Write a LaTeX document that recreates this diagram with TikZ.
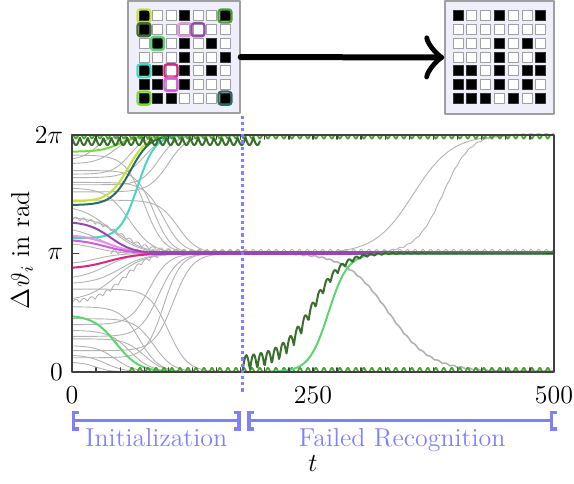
\documentclass[tikz,border=0pt]{standalone}
\usepackage{tikz}
\usetikzlibrary{arrows.meta}

\definecolor{markblue}{RGB}{128,128,255}
\definecolor{boxbg}{RGB}{239,239,251}
\definecolor{cellgray}{RGB}{160,160,160}
\definecolor{curvegray}{RGB}{178,178,178}
\definecolor{limegreen}{RGB}{200,226,60}
\definecolor{darkgreen}{RGB}{58,110,45}
\definecolor{midgreen}{RGB}{78,160,52}
\definecolor{lightgreen}{RGB}{92,212,115}
\definecolor{brightgreen}{RGB}{118,220,62}
\definecolor{turq}{RGB}{72,214,196}
\definecolor{darkteal}{RGB}{42,108,96}
\definecolor{phasepurple}{RGB}{152,72,172}
\definecolor{lightpink}{RGB}{228,150,228}
\definecolor{orchid}{RGB}{212,92,222}
\definecolor{rosered}{RGB}{212,40,130}

\tikzset{
  barend/.tip={Bracket[width=10pt,length=2.5pt,line width=1.6pt]},
  barout/.tip={Bracket[width=10pt,length=2.5pt,line width=1.6pt,reversed]}
}

\begin{document}
\begin{tikzpicture}[x=0.5pt, y=0.5pt, line cap=round, line join=round,
    font=\large,
    declare function={sg(\x,\m,\w)=1/(1+exp(min(9,max(-9,(\x-\m)/\w))));},
    panel/.style={draw=gray!75, fill=boxbg, line width=0.7pt, inner sep=0pt,
      minimum width=56pt, minimum height=56pt},
    pix0/.style={draw=cellgray, fill=white, line width=0.5pt, inner sep=0pt, minimum size=5pt},
    pix1/.style={draw=black!80, fill=black, line width=0.5pt, inner sep=0pt, minimum size=5pt},
    ring/.style={draw=#1, line width=1.1pt, rounded corners=1.5pt, inner sep=0pt, minimum size=6.6pt},
    bigarrow/.style={line width=3pt, -{Classical TikZ Rightarrow[length=10pt,width=22pt]}},
    graycurve/.style={curvegray, line width=0.45pt},
    colcurve/.style={#1, line width=1pt},
    frame/.style={black!75, line width=0.7pt},
    splitline/.style={markblue, line width=1.6pt, line cap=butt, dash pattern=on 1.6pt off 1.5pt},
    phasebar/.style={markblue, line width=1.1pt, line cap=butt},
    txt/.style={scale=1.08},
    ticklabel/.style={txt, inner sep=4pt}]

  \useasboundingbox (0,0) rectangle (574,483);

  % the two pattern panels
  \node[panel] (before) at (184,426) {};
  \node[panel, minimum width=54.5pt, minimum height=56.5pt] (after) at (499.5,425.5) {};

  \foreach \row [count=\j from 0] in {{1,0,0,1,0,0,1},{1,0,0,0,0,0,0},{0,1,0,1,0,1,0},
      {0,0,0,1,0,0,1},{1,1,0,1,0,1,0},{1,1,0,1,0,0,0},{1,1,1,0,0,0,1}}
    \foreach \v [count=\i from 0] in \row
      \node[pix\v] (in-\i-\j) at (144+13.5*\i, 467-13.7*\j) {};

  \foreach \i/\j/\clr in {0/0/limegreen, 6/0/midgreen, 0/1/darkgreen, 3/1/lightpink,
      4/1/phasepurple, 1/2/lightgreen, 0/4/turq, 2/4/rosered, 2/5/orchid,
      0/6/brightgreen, 6/6/darkteal}
    \node[ring=\clr] (ring-\i-\j) at (in-\i-\j) {};

  \foreach \row [count=\j from 0] in {{1,0,0,1,0,0,1},{0,0,0,0,0,0,0},{0,0,0,1,0,1,0},
      {0,0,0,1,0,0,1},{1,1,0,1,0,1,1},{1,1,0,1,0,1,0},{1,1,1,0,1,0,1}}
    \foreach \v [count=\i from 0] in \row
      \node[pix\v] (out-\i-\j) at (458+13.8*\i, 467-13.7*\j) {};

  \draw[bigarrow] (before) -- (after);

  % phase plot, t horizontally, y in units of pi
  \begin{scope}[shift={(72,111)}, x=0.482pt, y=59.25pt]

    % gray oscillators, initialization
    \foreach \ya/\yb/\tc/\tw in {1.80/2/25/8, 1.76/2/45/10, 1.67/2/60/9, 1.64/2/75/10,
        1.58/2/90/9, 1.52/2/100/10, 1.83/1/75/10, 1.70/1/85/9, 1.60/1/95/10,
        1.55/1/60/12, 1.45/1/110/10, 1.38/1/40/15, 1.30/1/50/14, 1.20/1/30/15,
        1.08/1/25/12, 0.92/1/25/12, 0.80/1/35/14, 0.75/1/50/14, 0.62/1/45/15,
        0.40/1/80/10, 0.30/1/90/10, 0.18/1/105/10, 0.12/1/95/9, 0.70/0/100/10,
        0.55/0/70/10, 0.45/0/85/10, 0.35/0/60/11, 0.28/0/75/10, 0.22/0/45/10,
        0.14/0/35/10, 0.08/0/25/8}
      \draw[graycurve, domain=0:180, samples=60]
        plot ({\x}, {\yb+(\ya-\yb)*sg(\x,\tc,\tw)/sg(0,\tc,\tw)});

    \draw[graycurve, domain=0:180, samples=240]
      plot ({\x}, {1+0.28*sg(\x,50,15)/sg(0,50,15)+0.03*abs(sin(22.5*\x))});
    \draw[graycurve, domain=0:180, samples=240]
      plot ({\x}, {1-0.42*sg(\x,55,14)/sg(0,55,14)+0.03*abs(sin(22.5*\x))});
    \draw[graycurve, domain=40:500, samples=700]
      plot ({\x}, {1+0.035*abs(sin(22.5*\x))^2});

    % gray oscillators, failed recognition
    \draw[graycurve, domain=150:500, samples=120] plot ({\x}, {2-sg(\x,354,20)});
    \draw[graycurve, domain=150:500, samples=300]
      plot ({\x}, {2-sg(\x,385,14)+0.012*abs(sin(22.5*\x))});
    \draw[graycurve, line width=0.8pt, domain=150:500, samples=300]
      plot ({\x}, {sg(\x,328,22)+0.012*abs(sin(22.5*\x))});

    % coloured oscillators
    \draw[colcurve=brightgreen, domain=0:180, samples=60]
      plot ({\x}, {2-0.14*sg(\x,50,10)/sg(0,50,10)});
    \draw[colcurve=limegreen, domain=0:180, samples=60]
      plot ({\x}, {2-0.56*sg(\x,58,10)/sg(0,58,10)});
    \draw[colcurve=darkteal, domain=0:180, samples=60]
      plot ({\x}, {2-0.59*sg(\x,61,10)/sg(0,61,10)});
    \draw[colcurve=turq, domain=0:180, samples=60]
      plot ({\x}, {2-0.87*sg(\x,68,9)/sg(0,68,9)});
    \draw[colcurve=lightpink, domain=0:180, samples=60]
      plot ({\x}, {1+0.15*sg(\x,38,14)/sg(0,38,14)});
    \draw[colcurve=orchid, domain=0:180, samples=60]
      plot ({\x}, {1+0.11*sg(\x,35,14)/sg(0,35,14)});
    \draw[colcurve=phasepurple, domain=0:180, samples=60]
      plot ({\x}, {1+0.26*sg(\x,40,12)/sg(0,40,12)});
    \draw[colcurve=rosered, domain=0:180, samples=60]
      plot ({\x}, {1-0.12*sg(\x,38,15)/sg(0,38,15)});
    \draw[colcurve=lightgreen, domain=0:180, samples=60]
      plot ({\x}, {0.47*sg(\x,46,12)/sg(0,46,12)});

    \draw[phasepurple, line width=2pt, line cap=butt] (80,1) -- (500,1);

    % green clusters at 0 and 2pi
    \draw[colcurve=midgreen, line width=0.9pt, domain=0:500, samples=900]
      plot ({\x}, {2-0.03*abs(sin(21.7*\x))^4});
    \draw[colcurve=darkgreen, domain=0:195, samples=260]
      plot ({\x}, {1.98-0.065*abs(sin(22*\x))});
    \draw[colcurve=midgreen, line width=0.9pt, domain=60:500, samples=800]
      plot ({\x}, {0.035*abs(sin(21.7*\x))^4});
    \draw[colcurve=lightgreen, domain=190:500, samples=120]
      plot ({\x}, {1-sg(\x,266,10)});
    \draw[colcurve=darkgreen, domain=177:500, samples=420]
      plot ({\x}, {1-sg(\x,250,16)+0.13*sqrt(sg(\x,250,16))*abs(sin(23.7*(\x-177)))});

    % frame and ticks
    \draw[frame] (0,0) rectangle (500,2);
    \foreach \tk in {25,50,...,475} {
      \draw[frame] (\tk,0) -- (\tk,0.035);
      \draw[frame] (\tk,2) -- (\tk,1.965);
    }
    \draw[frame] (0,1) -- (7,1);
    \draw[frame] (500,1) -- (493,1);

    \draw[splitline] (177,-0.165) -- (177,2.186);

    \node[ticklabel, anchor=east] (y-top) at (0,2) {$2\pi$};
    \node[ticklabel, anchor=east] (y-mid) at (0,1) {$\pi$};
    \node[ticklabel, anchor=east] (y-low) at (0,0) {$0$};
    \node[ticklabel, anchor=north, yshift=-2.5pt] (x-0) at (0,0) {$0$};
    \node[ticklabel, anchor=north, yshift=-2.5pt] (x-250) at (250,0) {$250$};
    \node[ticklabel, anchor=north, yshift=-2.5pt] (x-500) at (500,0) {$500$};

    % phases
    \draw[phasebar, barend-barend] (0,-0.41) -- (175,-0.41)
      node[txt, midway, below, markblue] (initlabel) {Initialization};
    \draw[phasebar, barend-barout] (182,-0.41) -- (503,-0.41)
      node[txt, midway, below, markblue] (faillabel) {Failed Recognition};
  \end{scope}

  \node[txt, rotate=90] (ylabel) at (22,233) {$\Delta\vartheta_i$ in rad};
  \node[txt] (tlabel) at (313,19) {$t$};

\end{tikzpicture}
\end{document}
